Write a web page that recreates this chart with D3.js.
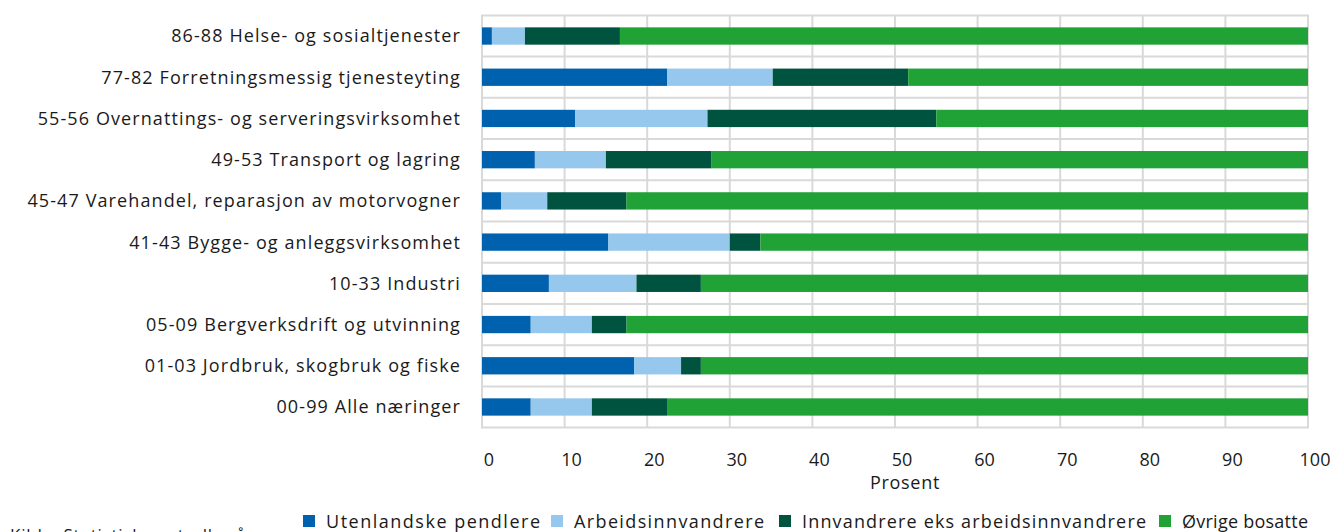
<!DOCTYPE html>
<html>
<head>
<meta charset="utf-8">
<script src="https://cdn.jsdelivr.net/npm/d3@7"></script>
<style>
  html, body { margin: 0; padding: 0; background: #fff; }
  svg { display: block; }
  text { font-family: "Open Sans", "Noto Sans", sans-serif; fill: #1a1a1a; }
</style>
</head>
<body>
<svg id="chart" width="1336" height="532"></svg>
<script>
const categories = [
  "86-88 Helse- og sosialtjenester",
  "77-82 Forretningsmessig tjenesteyting",
  "55-56 Overnattings- og serveringsvirksomhet",
  "49-53 Transport og lagring",
  "45-47 Varehandel, reparasjon av motorvogner",
  "41-43 Bygge- og anleggsvirksomhet",
  "10-33 Industri",
  "05-09 Bergverksdrift og utvinning",
  "01-03 Jordbruk, skogbruk og fiske",
  "00-99 Alle næringer"
];
const seriesNames = ["Utenlandske pendlere", "Arbeidsinnvandrere", "Innvandrere eks arbeidsinnvandrere", "Øvrige bosatte"];
const utenlandske      = [1.2, 22.4, 11.3, 6.4, 2.3, 15.3, 8.1, 5.9, 18.4, 5.9];
const arbeidsinnv      = [4.0, 12.8, 16.0, 8.6, 5.6, 14.7, 10.6, 7.4, 5.7, 7.4];
const innvandrereEks   = [11.5, 16.4, 27.7, 12.8, 9.6, 3.7, 7.8, 4.2, 2.4, 9.1];
const ovrige           = [83.3, 48.4, 45.0, 72.2, 82.5, 66.3, 73.5, 82.5, 73.5, 77.6];
const xTicks = [0, 10, 20, 30, 40, 50, 60, 70, 80, 90, 100];
const colors = ["#0062AE", "#96C7EC", "#00543F", "#21A237"];
const xTitle = "Prosent";
const source = "Kilde: Statistisk sentralbyrå";

const rows = categories.map((c, i) => ({
  cat: c,
  [seriesNames[0]]: utenlandske[i],
  [seriesNames[1]]: arbeidsinnv[i],
  [seriesNames[2]]: innvandrereEks[i],
  [seriesNames[3]]: ovrige[i]
}));

const svg = d3.select("#chart");
const pLeft = 482, pRight = 1308, pTop = 15.4, pBottom = 427.6;

const x = d3.scaleLinear().domain([0, 100]).range([pLeft, pRight]);
const y = d3.scaleBand().domain(categories).range([pTop, pBottom]).paddingInner(0.58).paddingOuter(0.29);
const yOuter = d3.scaleBand().domain(categories).range([pTop, pBottom]);

const grid = svg.append("g");
grid.selectAll("line.v").data(xTicks).join("line")
  .attr("x1", d => x(d)).attr("x2", d => x(d))
  .attr("y1", pTop).attr("y2", pBottom)
  .attr("stroke", "#d9d9d9").attr("stroke-width", 2);
const bounds = categories.map(c => yOuter(c)).concat([pBottom]);
grid.selectAll("line.h").data(bounds).join("line")
  .attr("x1", pLeft - 1).attr("x2", pRight + 1)
  .attr("y1", d => d).attr("y2", d => d)
  .attr("stroke", "#d9d9d9").attr("stroke-width", 2);

const stack = d3.stack().keys(seriesNames)(rows);
svg.append("g").selectAll("g").data(stack).join("g")
  .attr("fill", (d, i) => colors[i])
  .selectAll("rect").data(d => d).join("rect")
  .attr("x", d => x(d[0]))
  .attr("width", d => Math.max(0, x(Math.min(100, d[1])) - x(d[0])))
  .attr("y", d => y(d.data.cat))
  .attr("height", y.bandwidth());

svg.append("g").selectAll("text").data(categories).join("text")
  .attr("x", 461)
  .attr("y", d => yOuter(d) + yOuter.bandwidth() / 2)
  .attr("dy", "0.36em")
  .attr("text-anchor", "end")
  .attr("font-size", 18)
  .attr("letter-spacing", 1.1)
  .text(d => d);

svg.append("g").selectAll("text").data(xTicks).join("text")
  .attr("x", d => x(d) + 7)
  .attr("y", 466)
  .attr("text-anchor", "middle")
  .attr("font-size", 18)
  .text(d => d);

svg.append("text")
  .attr("x", 905).attr("y", 489)
  .attr("text-anchor", "middle")
  .attr("font-size", 18)
  .attr("letter-spacing", 0.7)
  .text(xTitle);

const legendTextX = [326, 574, 802, 1182];
const legendTextW = [214, 190, 344, 126];
const lg = svg.append("g").selectAll("g").data(seriesNames).join("g")
  .attr("transform", (d, i) => `translate(${legendTextX[i] - 23},515)`);
lg.append("rect").attr("width", 12).attr("height", 12).attr("fill", (d, i) => colors[i]);
lg.append("text").attr("x", 23).attr("y", 12.5).attr("font-size", 18)
  .attr("textLength", (d, i) => legendTextW[i]).attr("lengthAdjust", "spacing")
  .text(d => d);

svg.append("text").attr("x", 10).attr("y", 541).attr("font-size", 17)
  .attr("letter-spacing", 0.8).text(source);
</script>
</body>
</html>
